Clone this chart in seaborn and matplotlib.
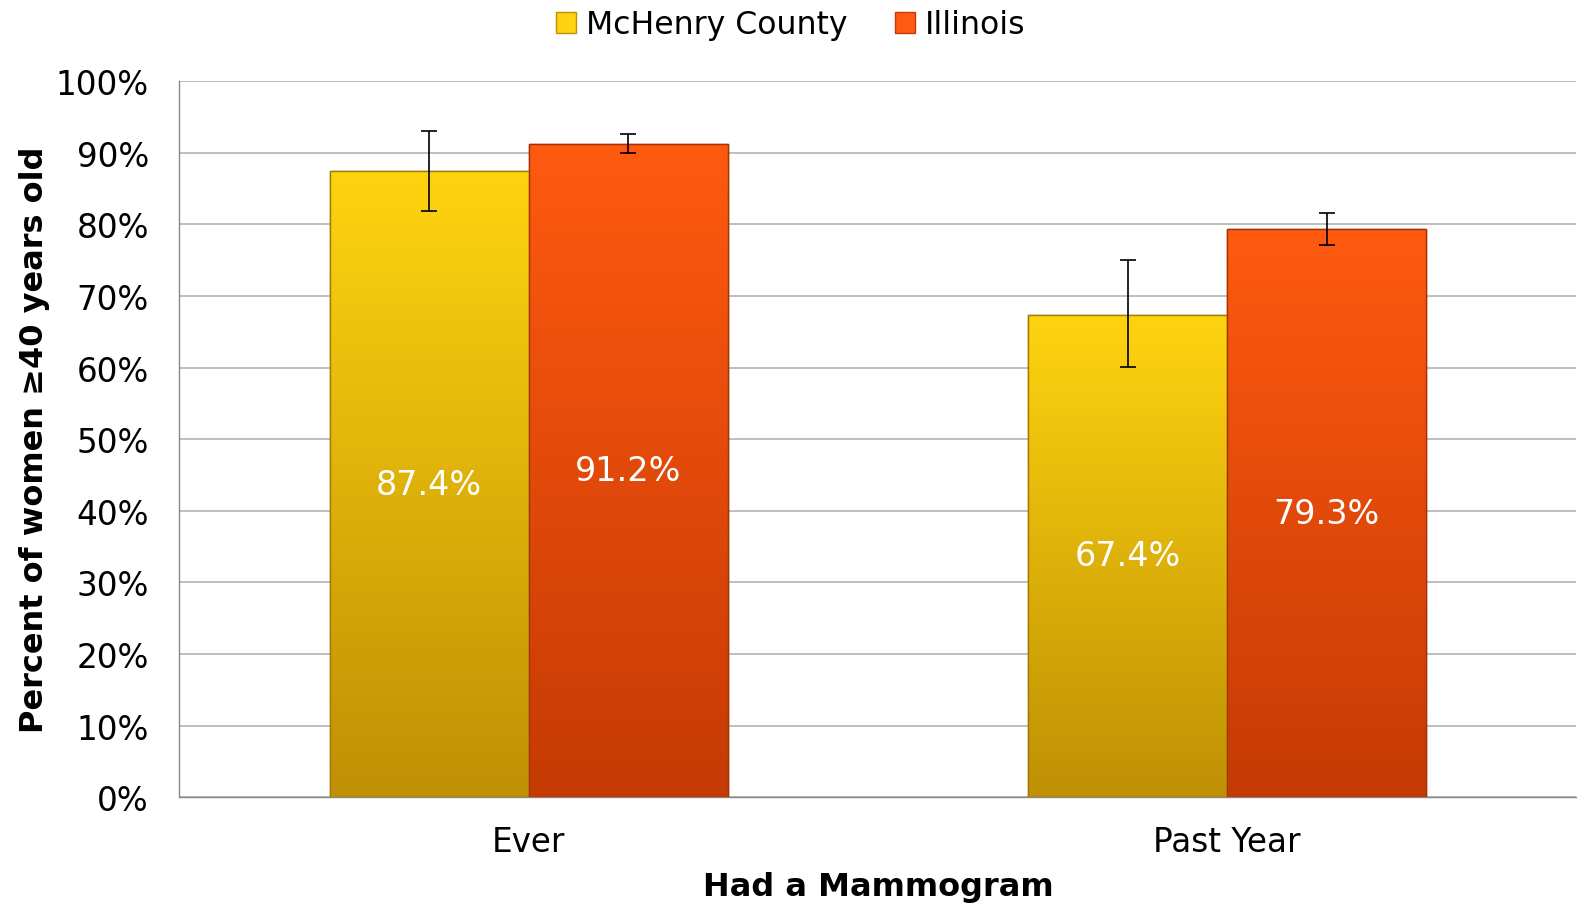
import matplotlib
matplotlib.use('Agg')
import matplotlib.pyplot as plt
import matplotlib.colors as mcolors
from matplotlib.patches import Patch
import numpy as np
import pandas as pd
import seaborn as sns

# data
categories = ['Ever', 'Past Year']
regions = ['McHenry County', 'Illinois']
mchenry = [87.4, 67.4]
illinois = [91.2, 79.3]
mchenry_lo = [81.9, 60.1]
mchenry_hi = [93.1, 75.0]
illinois_lo = [90.0, 77.2]
illinois_hi = [92.7, 81.6]
yticks = [0, 10, 20, 30, 40, 50, 60, 70, 80, 90, 100]

df = pd.DataFrame({
    'category': categories * 2,
    'region': [regions[0]] * 2 + [regions[1]] * 2,
    'value': mchenry + illinois,
    'lo': mchenry_lo + illinois_lo,
    'hi': mchenry_hi + illinois_hi,
})

# top / bottom colours of the gradient fill
grad = {
    'McHenry County': ('#fed410', '#bf9004'),
    'Illinois': ('#ff5a10', '#c53a05'),
}

sns.set_style('white')
plt.rcParams['font.family'] = ['DejaVu Sans']
plt.rcParams['text.color'] = 'black'
plt.rcParams['axes.labelcolor'] = 'black'
plt.rcParams['xtick.color'] = 'black'
plt.rcParams['ytick.color'] = 'black'

fig = plt.figure(figsize=(15.81, 9.04), dpi=100)
ax = fig.add_axes([0.1135, 0.117, 0.8835, 0.792])

sns.barplot(data=df, x='category', y='value', hue='region', order=categories,
            hue_order=regions, width=0.57, palette=[grad[r][0] for r in regions],
            errorbar=None, legend=False, ax=ax, zorder=3)

ax.set_xlim(-0.5, 1.5)
ax.set_ylim(0, 100)

# gradient fill for each bar, clipped to the bar shape
n = len(categories)
for i, bar in enumerate(ax.patches[:2 * n]):
    reg = regions[i // n]
    top, bot = grad[reg]
    cmap = mcolors.LinearSegmentedColormap.from_list(reg, [bot, top])
    x0, w, h = bar.get_x(), bar.get_width(), bar.get_height()
    img = ax.imshow(np.linspace(0, 1, 256).reshape(-1, 1), cmap=cmap, aspect='auto',
                    origin='lower', extent=[x0, x0 + w, 0, h], zorder=3.5)
    img.set_clip_path(bar)
    edge = tuple(c * 0.85 for c in mcolors.to_rgb(bot))
    bar.set_edgecolor(edge)
    ax.add_patch(plt.Rectangle((x0, 0), w, h, fill=False, edgecolor=edge,
                               linewidth=1.0, zorder=4))
    # error bar and value label
    row = df[(df['region'] == reg) & (df['category'] == categories[i % n])].iloc[0]
    xc = x0 + w / 2
    ax.errorbar(xc, row['value'],
                yerr=[[row['value'] - row['lo']], [row['hi'] - row['value']]],
                fmt='none', ecolor='black', elinewidth=1.2, capsize=6, capthick=1.2,
                zorder=5)
    ax.text(xc, h / 2, f"{row['value']:.1f}%", color='white', fontsize=24,
            ha='center', va='center', zorder=6)

ax.set_yticks(yticks)
ax.set_yticklabels([f'{t}%' for t in yticks], fontsize=23.5)
ax.yaxis.grid(True, color='#b3b3b3', linewidth=1.2, zorder=0)
ax.set_axisbelow(True)

ax.set_xticks([-0.5, 0.5, 1.5], minor=False)
ax.set_xticklabels([])
ax.set_xticks([0, 1], minor=True)
ax.set_xticklabels(categories, minor=True, fontsize=23.5)
ax.tick_params(axis='x', which='major', length=8, color='#888888', width=1)
ax.tick_params(axis='x', which='minor', length=0, pad=20)
ax.tick_params(axis='y', length=8, color='#888888', width=1, pad=14)

for s in ['top', 'right']:
    ax.spines[s].set_visible(False)
ax.spines['left'].set_color('#888888')
ax.spines['bottom'].set_color('#888888')
ax.spines['left'].set_linewidth(1)
ax.spines['bottom'].set_linewidth(1)

ax.set_xlabel('Had a Mammogram', fontsize=23, fontweight='bold', labelpad=9)
ax.set_ylabel('Percent of women \u226540 years old', fontsize=23, fontweight='bold',
              labelpad=4)

handles = [Patch(facecolor=grad[r][0], edgecolor=grad[r][1]) for r in regions]
fig.legend(handles, regions, loc='upper center', bbox_to_anchor=(0.5, 1.02), ncol=2,
           frameon=False, fontsize=22.7, handlelength=0.65, handleheight=0.65,
           handletextpad=0.3, columnspacing=1.5)

fig.savefig('out.png', dpi=100)
